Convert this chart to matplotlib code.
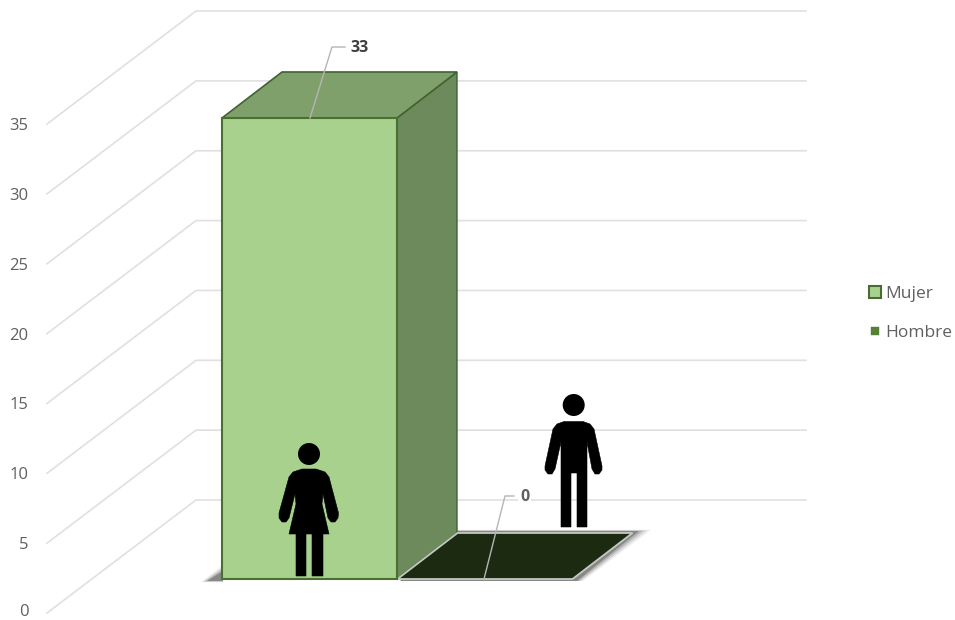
import matplotlib
matplotlib.use("Agg")
import matplotlib.pyplot as plt
from matplotlib.lines import Line2D
from matplotlib.patches import Polygon, Circle, Rectangle
from matplotlib.transforms import ScaledTranslation

plt.rcParams['font.family'] = ['Open Sans', 'DejaVu Sans']

categories = ["Mujer", "Hombre"]
values = [33, 0]
ticks = [0, 5, 10, 15, 20, 25, 30, 35]

W, H = 955, 620
PX_V = 13.97            # pixels per value unit
Y0 = 613                # pixel row of value 0 on the front edge
X_LEFT = 47             # pixel column of the value axis
X_CAT0 = 309.5          # pixel column of first category
X_STEP = 175.5          # pixels per category

fig = plt.figure(figsize=(W / 100, H / 100), dpi=100, facecolor="white")
ax = fig.add_axes([X_LEFT / W, 0, (W - X_LEFT) / W, 1])
ax.set_xlim((X_LEFT - X_CAT0) / X_STEP, (W - X_CAT0) / X_STEP)
ax.set_ylim(-(H - Y0) / PX_V, Y0 / PX_V)
ax.patch.set_alpha(0)
for s in ax.spines.values():
    s.set_visible(False)
ax.set_xticks([])
ax.set_yticks(ticks)
ax.tick_params(axis='y', length=0, pad=13.5, labelsize=12, labelcolor="#606060")
zero_label = ax.yaxis.get_major_ticks()[0].label1
zero_label.set_transform(zero_label.get_transform()
                         + ScaledTranslation(0, 2.5 / 100, fig.dpi_scale_trans))

def ux(px):
    return (px - X_CAT0) / X_STEP

def vy(py):
    return (Y0 - py) / PX_V

# gridlines: front-left diagonal, then back wall
grid_dy = vy(500)
for t in ticks:
    ax.plot([ux(X_LEFT), ux(196), ux(806)], [t, t + grid_dy, t + grid_dy],
            color="#e0e0e0", lw=1.2, zorder=1, clip_on=False, solid_joinstyle='miter')

# soft shadows under the columns
for a, g in [(0.08, 6), (0.12, 4), (0.18, 2), (0.3, 0)]:
    ax.add_patch(Polygon([(ux(223), vy(581 + g * 0.2)), (ux(207 - g), vy(581 + g * 0.2)),
                          (ux(223), vy(571 - g))],
                         closed=True, fc="#222222", ec="none", alpha=a, zorder=2))
    ax.add_patch(Polygon([(ux(457), vy(531 - g * 0.2)), (ux(639 + 2 * g), vy(531 - g * 0.2)),
                          (ux(577 + g), vy(581)), (ux(400), vy(581))],
                         closed=True, fc="#222222", ec="none", alpha=a, zorder=2))

# 3D columns from values
base = vy(579)
bar_w = 175 / X_STEP
depth_x, depth_y = 60 / X_STEP, 46 / PX_V
for i, v in enumerate(values):
    l, r = i - bar_w / 2, i + bar_w / 2
    top = base + v
    if v > 0:
        ax.add_patch(Polygon([(r, base), (r + depth_x, base + depth_y),
                              (r + depth_x, top + depth_y), (r, top)],
                             closed=True, fc="#6C8A5B", ec="#3F6430", lw=1, zorder=3))
        ax.add_patch(Polygon([(l, top), (r, top), (r + depth_x, top + depth_y),
                              (l + depth_x, top + depth_y)],
                             closed=True, fc="#7FA06B", ec="#3F6430", lw=1.2, zorder=3))
        ax.add_patch(Rectangle((l, base), bar_w, v, fc="#A9D18E", ec="#48702F", lw=1.5, zorder=4))
    else:
        ax.add_patch(Polygon([(l, top), (r, top), (r + depth_x, top + depth_y),
                              (l + depth_x, top + depth_y)],
                             closed=True, fc="#1B2A10", ec="#c4c8c0", lw=1.3, zorder=3))

# data labels with leader lines
leaders = [((ux(310), base + values[0]), (ux(332), vy(47)), (ux(345), vy(47))),
           ((ux(484), base + values[1]), (ux(505), vy(496)), (ux(514), vy(496)))]
label_x = [350, 520]
label_col = ["#404040", "#606060"]
for v, (a, b, c), lx, col in zip(values, leaders, label_x, label_col):
    ax.plot([a[0], b[0], c[0]], [a[1], b[1], c[1]], color="#b5b5b5", lw=1, zorder=5)
    ax.text(ux(lx), b[1] - 1.2 / PX_V, str(v), fontsize=11.5, fontweight="bold", color=col,
            ha="left", va="center", zorder=6,
            bbox=dict(fc="white", ec="none", pad=1.5))

# overlay in pixel coordinates for icons and legend
ov = fig.add_axes([0, 0, 1, 1])
ov.set_xlim(0, W)
ov.set_ylim(H, 0)
ov.axis("off")
ov.patch.set_alpha(0)
ax.set_zorder(1)
ov.set_zorder(2)

K = "black"
def draw(p):
    ov.add_patch(p)

# woman
draw(Circle((309, 454), 11, fc=K, ec="none"))
draw(Polygon([(302, 469), (316, 469), (325, 472), (329, 477), (338.5, 513), (338, 518), (335, 522),
              (331, 522), (328, 518), (323, 494), (322, 504), (329, 534), (323, 534), (323, 576),
              (312, 576), (312, 534), (306, 534), (306, 576), (296, 576), (296, 534), (289, 534),
              (296, 504), (295, 494), (289, 518), (286, 522), (282, 522), (279, 518), (279, 513),
              (289, 477), (293, 472)], closed=True, fc=K, ec=K, lw=0.4, joinstyle='round'))
# man
draw(Circle((573.7, 405), 11, fc=K, ec="none"))
draw(Polygon([(564, 421.5), (583, 421.5), (590, 424), (594, 429), (602, 466), (602, 470), (599, 474),
              (595, 474), (592, 469), (587, 442), (587, 527), (577, 527), (577, 473), (571, 473),
              (571, 527), (561, 527), (561, 442), (555, 469), (552, 474), (548, 474), (545, 470),
              (545, 466), (553, 429), (557, 424)], closed=True, fc=K, ec=K, lw=0.4, joinstyle='round'))

# legend
handles = [Line2D([], [], ls="", marker="s", ms=8, mfc="#A9D18E", mec="#4A6B35", mew=1.5),
           Line2D([], [], ls="", marker="s", ms=5.3, mfc="#548235", mec="#548235", mew=0.3)]
leg = ov.legend(handles, categories, loc="center left", frameon=False, fontsize=12.5,
                labelcolor="#606060", handlelength=1, handletextpad=0.1,
                labelspacing=1.33, borderpad=0, borderaxespad=0,
                bbox_to_anchor=(866.5 / W, 1 - 313.5 / H), bbox_transform=fig.transFigure)

fig.savefig("out.png", dpi=100, facecolor="white")
